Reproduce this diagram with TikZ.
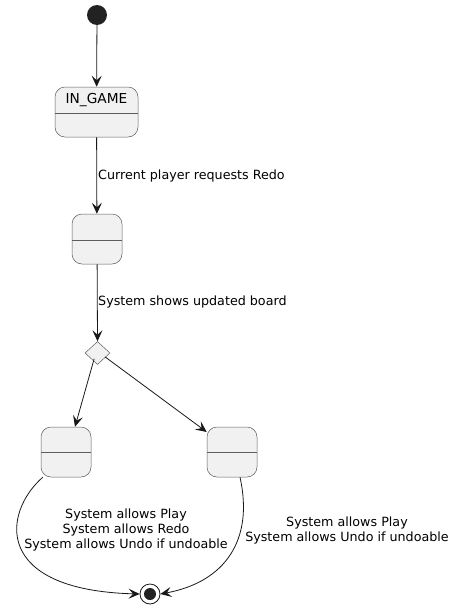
\documentclass[tikz,border=0pt]{standalone}
\usepackage{fontspec}
\setmainfont{DejaVu Sans}
\usetikzlibrary{arrows.meta,shapes.geometric}
\definecolor{stfill}{HTML}{F1F1F1}
\definecolor{stdraw}{HTML}{181818}
\definecolor{dot}{HTML}{222222}
\tikzset{
  lbl/.style={font=\fontsize{12.7}{15}\selectfont, inner sep=0pt, align=center},
  conn/.style={draw=stdraw, line width=0.8pt, -{Stealth[length=11pt,width=10pt,inset=4.5pt]}},
  stbox/.style={draw=stdraw!70, line width=0.5pt, fill=stfill, rounded corners=10pt, minimum width=50pt, minimum height=50pt, inner sep=0pt},
  divider/.style={draw=stdraw!70, line width=0.5pt},
}
\begin{document}
\begin{tikzpicture}[x=1pt,y=-1pt]
\useasboundingbox (0,0) rectangle (457,608);
% start
\node[circle, fill=dot, minimum size=20pt, inner sep=0pt] (start) at (97,15) {};
% IN_GAME
\node[stbox, minimum width=83pt] (ingame) at (96.5,112) {};
\draw[divider] (ingame.west |- 0,113) -- (ingame.east |- 0,113);
\node[font=\fontsize{13.7}{16}\selectfont, inner sep=0pt] (ingamet) at (96.5,100.5) {IN\_GAME};
% box2
\node[stbox] (s2) at (97,239) {};
\draw[divider] (s2.west |- 0,240) -- (s2.east |- 0,240);
% choice
\node[diamond, draw=stdraw!70, line width=0.5pt, fill=stfill, minimum width=25pt, minimum height=23pt, inner sep=0pt] (ch) at (97.5,353) {};
% box3, box4
\node[stbox] (s3) at (66,452) {};
\draw[divider] (s3.west |- 0,452) -- (s3.east |- 0,452);
\node[stbox] (s4) at (232,452) {};
\draw[divider] (s4.west |- 0,452) -- (s4.east |- 0,452);
% end
\node[circle, draw=stdraw, line width=0.8pt, fill=white, minimum size=20pt, inner sep=0pt] (fin) at (150,594) {};
\node[circle, fill=dot, minimum size=12pt, inner sep=0pt] (finin) at (fin) {};
% connectors
\draw[conn] (start) -- (ingame);
\draw[conn] (ingame) -- (s2);
\draw[conn] (s2) -- (ch.north);
\draw[conn] ([xshift=3pt]ch.south west) -- (s3.north -| 75,0);
\draw[conn] ([xshift=-5pt,yshift=-4pt]ch.east) -- ([yshift=20pt]s4.west);
\draw[conn] ([xshift=2pt]s3.south west) .. controls (3,512) and (-8,590) .. (fin.west);
\draw[conn] ([xshift=8pt]s4.south) .. controls (254,540) and (225,582) .. (fin.east);
% labels
\node[lbl, anchor=west] (l1) at (98,176) {Current player requests Redo};
\node[lbl, anchor=west] (l2) at (98,302) {System shows updated board};
\node[lbl] (l3) at (126,530) {System allows Play\\System allows Redo\\System allows Undo if undoable};
\node[lbl] (l4) at (347,530) {System allows Play\\System allows Undo if undoable};
\end{tikzpicture}
\end{document}
